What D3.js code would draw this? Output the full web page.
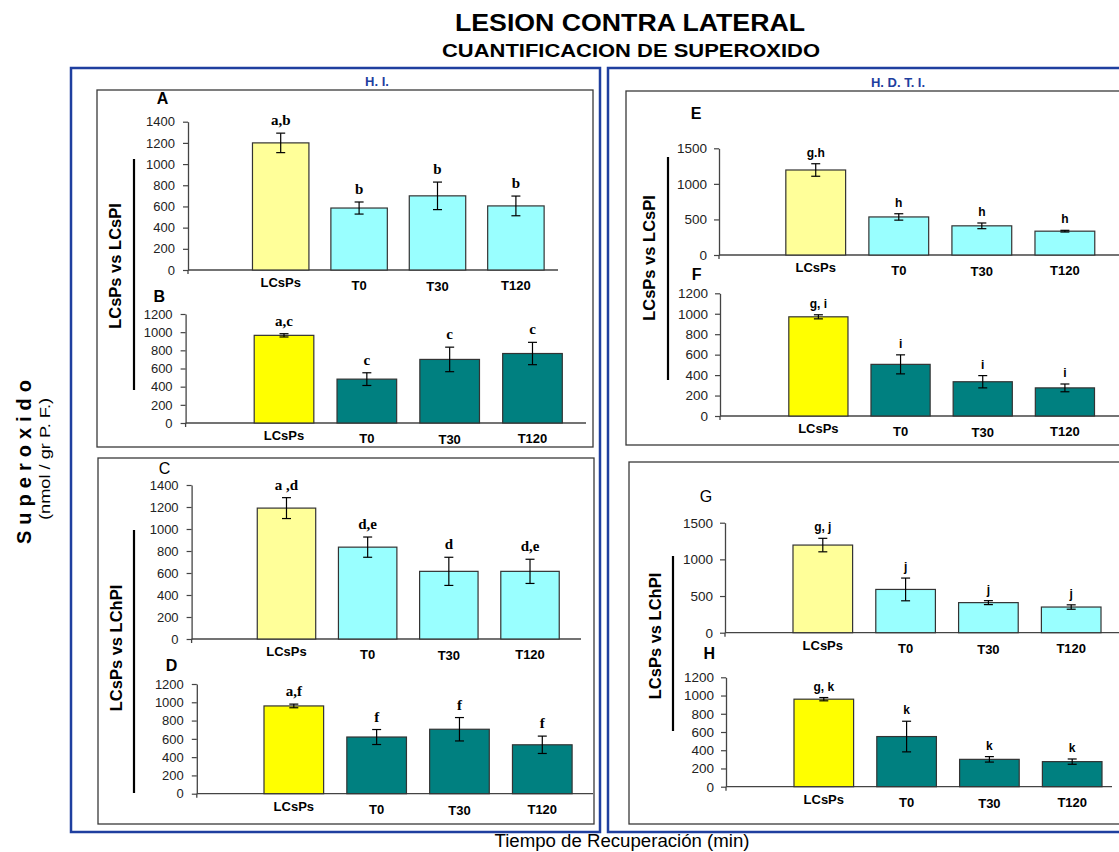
<!DOCTYPE html>
<html>
<head>
<meta charset="utf-8">
<script src="https://cdn.jsdelivr.net/npm/d3@7"></script>
<style>
  body { margin: 0; background: #fff; }
  svg { display: block; font-family: "Liberation Sans", Arial, sans-serif; }
</style>
</head>
<body>
<svg id="chart" width="1119" height="852"></svg>
<script>
// Categories shared by every panel
const categories = ["LCsPs", "T0", "T30", "T120"];

// Tick sets
const ticks1400 = [0, 200, 400, 600, 800, 1000, 1200, 1400];
const ticks1200 = [0, 200, 400, 600, 800, 1000, 1200];
const ticks1500 = [0, 500, 1000, 1500];

// H. I. — LCsPs vs LCsPI
const meansA   = [1200, 585, 700, 605];
const errorsA  = [92, 57, 130, 93];
const lettersA = ["a,b", "b", "b", "b"];
const meansB   = [965, 483, 700, 765];
const errorsB  = [18, 70, 135, 123];
const lettersB = ["a,c", "c", "c", "c"];

// H. I. — LCsPs vs LChPI
const meansC   = [1190, 835, 615, 615];
const errorsC  = [95, 92, 128, 110];
const lettersC = ["a ,d", "d,e", "d", "d,e"];
const meansD   = [960, 620, 705, 535];
const errorsD  = [20, 82, 128, 95];
const lettersD = ["a,f", "f", "f", "f"];

// H. D. T. I. — LCsPs vs LCsPI
const meansE   = [1195, 535, 410, 335];
const errorsE  = [88, 45, 40, 12];
const lettersE = ["g.h", "h", "h", "h"];
const meansF   = [970, 505, 335, 275];
const errorsF  = [20, 93, 60, 38];
const lettersF = ["g, i", "i", "i", "i"];

// H. D. T. I. — LCsPs vs LChPI
const meansG   = [1195, 590, 410, 350];
const errorsG  = [92, 155, 27, 30];
const lettersG = ["g, j", "j", "j", "j"];
const meansH   = [960, 550, 300, 275];
const errorsH  = [18, 168, 30, 29];
const lettersH = ["g, k", "k", "k", "k"];

const svg = d3.select("#chart");
const BLUE = "#1f3f9f";

// Titles
svg.append("text").attr("x", 630).attr("y", 31).attr("text-anchor", "middle")
  .attr("font-size", 24).attr("font-weight", "bold")
  .attr("textLength", 350).attr("lengthAdjust", "spacingAndGlyphs")
  .text("LESION CONTRA LATERAL");
svg.append("text").attr("x", 631).attr("y", 57).attr("text-anchor", "middle")
  .attr("font-size", 19).attr("font-weight", "bold")
  .attr("textLength", 378).attr("lengthAdjust", "spacingAndGlyphs")
  .text("CUANTIFICACION DE SUPEROXIDO");

// Blue group frames
svg.append("rect").attr("x", 71).attr("y", 68).attr("width", 529).attr("height", 764)
  .attr("fill", "none").attr("stroke", BLUE).attr("stroke-width", 2.5);
svg.append("rect").attr("x", 608).attr("y", 68).attr("width", 530).attr("height", 764)
  .attr("fill", "none").attr("stroke", BLUE).attr("stroke-width", 2.5);

svg.append("text").attr("x", 377).attr("y", 86).attr("text-anchor", "middle")
  .attr("font-size", 13).attr("font-weight", "bold").attr("fill", BLUE).text("H. I.");
svg.append("text").attr("x", 898).attr("y", 87).attr("text-anchor", "middle")
  .attr("font-size", 13).attr("font-weight", "bold").attr("fill", BLUE).text("H. D. T. I.");

// Inner chart frames
const frames = [
  [97, 90, 496, 357],
  [98, 458, 496, 366],
  [626, 91, 520, 354],
  [629, 462, 520, 362]
];
frames.forEach(f => {
  svg.append("rect").attr("x", f[0]).attr("y", f[1]).attr("width", f[2]).attr("height", f[3])
    .attr("fill", "none").attr("stroke", "#3a3a3a").attr("stroke-width", 1.3);
});

// Comparison labels with their vertical rule
function groupLabel(text, x, yc, lineX, lineY0, lineY1) {
  svg.append("line").attr("x1", lineX).attr("x2", lineX).attr("y1", lineY0).attr("y2", lineY1)
    .attr("stroke", "#000").attr("stroke-width", 2.2);
  svg.append("text").attr("transform", `translate(${x},${yc}) rotate(-90)`)
    .attr("text-anchor", "middle").attr("font-size", 16.5).attr("font-weight", "bold")
    .text(text);
}
groupLabel("LCsPs vs LCsPI", 121, 266, 134, 159, 390);
groupLabel("LCsPs vs LChPI", 122, 648, 134, 530, 793);
groupLabel("LCsPs vs LCsPI", 655, 258, 668, 157, 380);
groupLabel("LCsPs vs LChPI", 661, 636, 673, 556, 731);

// Shared y title
svg.append("text").attr("transform", "translate(31,459) rotate(-90)")
  .attr("text-anchor", "middle").attr("font-size", 20).attr("font-weight", "bold")
  .attr("letter-spacing", 6).text("Superoxido");
svg.append("text").attr("transform", "translate(50,459) rotate(-90)")
  .attr("text-anchor", "middle").attr("font-size", 15)
  .attr("textLength", 122).attr("lengthAdjust", "spacingAndGlyphs")
  .text("(nmol / gr P. F.)");

// Shared x title
svg.append("text").attr("x", 622).attr("y", 847).attr("text-anchor", "middle")
  .attr("font-size", 17.5).attr("textLength", 255).attr("lengthAdjust", "spacingAndGlyphs")
  .text("Tiempo de Recuperación (min)");

const lightFill = ["#ffff99", "#99ffff", "#99ffff", "#99ffff"];
const darkFill  = ["#ffff00", "#008080", "#008080", "#008080"];
const catShift  = [0, 3, 4, 3];

function drawPanel(cfg) {
  const g = svg.append("g");
  const y = d3.scaleLinear().domain([0, d3.max(cfg.ticks)]).range([cfg.y0, cfg.yTop]);
  const x = d3.scaleBand().domain(categories).range(cfg.band)
    .paddingInner(0.28).paddingOuter(0.14);

  // y axis
  const ax = g.append("g").attr("transform", `translate(${cfg.axisX},0)`)
    .call(d3.axisLeft(y).tickValues(cfg.ticks).tickSize(5).tickSizeOuter(0)
      .tickPadding(cfg.tickPad).tickFormat(d3.format("d")));
  ax.select(".domain").attr("stroke", "#444").attr("stroke-width", 1.3);
  ax.selectAll(".tick line").attr("stroke", "#444").attr("stroke-width", 1.2);
  ax.selectAll(".tick text").attr("font-size", cfg.tickFont)
    .attr("font-family", "'Liberation Sans', Arial, sans-serif").attr("fill", "#222");

  // x axis baseline
  g.append("line").attr("x1", cfg.axisX).attr("x2", cfg.xEnd)
    .attr("y1", cfg.y0).attr("y2", cfg.y0).attr("stroke", "#444").attr("stroke-width", 1.3);
  g.append("line").attr("x1", cfg.axisX).attr("x2", cfg.axisX)
    .attr("y1", cfg.y0).attr("y2", cfg.y0 + 4).attr("stroke", "#444").attr("stroke-width", 1.3);

  // bars
  g.selectAll("rect.bar").data(cfg.means).join("rect").attr("class", "bar")
    .attr("x", (d, i) => x(categories[i]))
    .attr("width", x.bandwidth())
    .attr("y", d => y(d))
    .attr("height", d => cfg.y0 - y(d))
    .attr("fill", (d, i) => cfg.fills[i])
    .attr("stroke", "#333").attr("stroke-width", 1.2);

  // error bars
  const eb = g.selectAll("g.err").data(cfg.means).join("g").attr("class", "err");
  const cx = i => x(categories[i]) + x.bandwidth() / 2;
  eb.append("line")
    .attr("x1", (d, i) => cx(i)).attr("x2", (d, i) => cx(i))
    .attr("y1", (d, i) => y(d + cfg.errors[i])).attr("y2", (d, i) => y(d - cfg.errors[i]))
    .attr("stroke", "#000").attr("stroke-width", 1.2);
  [1, -1].forEach(s => {
    eb.append("line")
      .attr("x1", (d, i) => cx(i) - 4.5).attr("x2", (d, i) => cx(i) + 4.5)
      .attr("y1", (d, i) => y(d + s * cfg.errors[i])).attr("y2", (d, i) => y(d + s * cfg.errors[i]))
      .attr("stroke", "#000").attr("stroke-width", 1.2);
  });

  // significance letters
  g.selectAll("text.sig").data(cfg.means).join("text").attr("class", "sig")
    .attr("x", (d, i) => cx(i))
    .attr("y", (d, i) => y(d + cfg.errors[i]) - cfg.sigGap)
    .attr("text-anchor", "middle")
    .attr("font-family", cfg.sigFamily)
    .attr("font-size", cfg.sigSize).attr("font-weight", "bold")
    .text((d, i) => cfg.letters[i]);

  // category labels
  g.selectAll("text.cat").data(categories).join("text").attr("class", "cat")
    .attr("x", d => x(d) + x.bandwidth() / 2)
    .attr("y", (d, i) => cfg.y0 + 17 + catShift[i])
    .attr("text-anchor", "middle").attr("font-size", 13).attr("font-weight", "bold")
    .text(d => d);

  // panel letter
  g.append("text").attr("x", cfg.letterPos[0]).attr("y", cfg.letterPos[1] + 5)
    .attr("text-anchor", "middle").attr("font-size", 16)
    .attr("font-weight", cfg.letterBold ? "bold" : "normal").text(cfg.letter);
}

const serif = "'Liberation Serif', 'Times New Roman', serif";
const sans = "'Liberation Sans', Arial, sans-serif";

const panels = [
  { letter: "A", means: meansA, errors: errorsA, letters: lettersA, ticks: ticks1400, fills: lightFill,
    axisX: 188, xEnd: 558, y0: 270, yTop: 121.7, band: [241.5, 555.1], letterPos: [162.6, 99.3], letterBold: true,
    tickPad: 8, tickFont: 13, sigFamily: serif, sigSize: 15, sigGap: 8 },
  { letter: "B", means: meansB, errors: errorsB, letters: lettersB, ticks: ticks1200, fills: darkFill,
    axisX: 185.6, xEnd: 586, y0: 423, yTop: 314, band: [242.6, 573.9], letterPos: [159.3, 297], letterBold: true,
    tickPad: 8, tickFont: 13, sigFamily: serif, sigSize: 15, sigGap: 8 },
  { letter: "C", means: meansC, errors: errorsC, letters: lettersC, ticks: ticks1400, fills: lightFill,
    axisX: 191.6, xEnd: 581, y0: 639, yTop: 485, band: [245.9, 570.6], letterPos: [164.6, 468.5], letterBold: false,
    tickPad: 8, tickFont: 13, sigFamily: serif, sigSize: 15, sigGap: 8 },
  { letter: "D", means: meansD, errors: errorsD, letters: lettersD, ticks: ticks1200, fills: darkFill,
    axisX: 196.8, xEnd: 593, y0: 793.7, yTop: 684, band: [252.4, 583.7], letterPos: [171.6, 666], letterBold: true,
    tickPad: 8, tickFont: 13, sigFamily: serif, sigSize: 15, sigGap: 8 },
  { letter: "E", means: meansE, errors: errorsE, letters: lettersE, ticks: ticks1500, fills: lightFill,
    axisX: 719, xEnd: 1119, y0: 255, yTop: 148.3, band: [774.2, 1106.4], letterPos: [696, 114], letterBold: true,
    tickPad: 7, tickFont: 13.5, sigFamily: sans, sigSize: 12, sigGap: 7 },
  { letter: "F", means: meansF, errors: errorsF, letters: lettersF, ticks: ticks1200, fills: darkFill,
    axisX: 720, xEnd: 1119, y0: 416, yTop: 293.3, band: [777.3, 1106], letterPos: [696.7, 275], letterBold: true,
    tickPad: 7, tickFont: 13.5, sigFamily: sans, sigSize: 12, sigGap: 7 },
  { letter: "G", means: meansG, errors: errorsG, letters: lettersG, ticks: ticks1500, fills: lightFill,
    axisX: 725, xEnd: 1119, y0: 632.7, yTop: 522.7, band: [781.4, 1112.6], letterPos: [706, 496.7], letterBold: false,
    tickPad: 7, tickFont: 13.5, sigFamily: sans, sigSize: 12, sigGap: 7 },
  { letter: "H", means: meansH, errors: errorsH, letters: lettersH, ticks: ticks1200, fills: darkFill,
    axisX: 726, xEnd: 1112, y0: 786.7, yTop: 677.3, band: [782.4, 1113.6], letterPos: [709.3, 654], letterBold: true,
    tickPad: 7, tickFont: 13.5, sigFamily: sans, sigSize: 12, sigGap: 7 }
];

panels.forEach(drawPanel);
</script>
</body>
</html>
